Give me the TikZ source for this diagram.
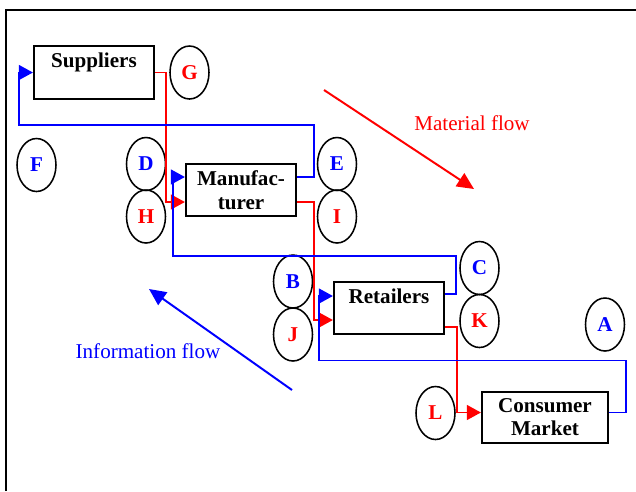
\documentclass[tikz,border=0pt]{standalone}
\usepackage{fontspec}
\setmainfont{Liberation Serif}
\usetikzlibrary{arrows.meta,shapes.geometric}
\newlength\px
\setlength\px{0.7113pt}
\definecolor{infoblue}{RGB}{0,0,255}
\definecolor{matred}{RGB}{255,0,0}
\begin{document}
\begin{tikzpicture}[x=\px,y=-\px,
  every node/.style={font=\fontsize{15}{17}\selectfont},
  box/.style={draw=black,line width=1.5pt,inner sep=0pt,align=center,font=\fontsize{15}{17}\selectfont\bfseries},
  tag/.style={draw=black,line width=1.1pt,ellipse,inner sep=0pt,minimum width=39\px,minimum height=53\px,font=\fontsize{15}{17}\selectfont\bfseries},
  bluetag/.style={tag,text=infoblue},
  redtag/.style={tag,text=matred},
  info/.style={draw=infoblue,line width=1.4pt,-{Triangle[length=10pt,width=10.5pt]}},
  mat/.style={draw=matred,line width=1.4pt,-{Triangle[length=10pt,width=10.5pt]}},
  flowarrow/.style={line width=1.4pt,-{Triangle[length=12pt,width=11pt]}}]
\useasboundingbox (0,0) rectangle (636,491);
% frame (open to the right and bottom)
\draw[line width=1.5pt] (6,491) -- (6,10) -- (636,10);

% stages of the chain
\node[box,minimum width=120\px,text height=21\px,text depth=32\px] (sup) at (94,72.5) {Suppliers};
\node[box,minimum width=110\px,minimum height=52\px] (man) at (241,190) {Manufac-\\turer};
\node[box,minimum width=110\px,text height=21\px,text depth=31\px] (ret) at (389,308) {Retailers};
\node[box,minimum width=126\px,minimum height=51\px,font=\fontsize{15}{16.4}\selectfont\bfseries] (cm) at (545,417.5) {Consumer\\Market};

% labelled points
\node[bluetag] (A) at (605,324.5) {A};
\node[bluetag] (B) at (293,281.5) {B};
\node[bluetag] (C) at (479.5,268) {C};
\node[bluetag] (D) at (146,164) {D};
\node[bluetag] (E) at (337,164) {E};
\node[bluetag] (F) at (36.5,165) {F};
\node[redtag] (G) at (189.5,72.5) {G};
\node[redtag] (H) at (146,216.5) {H};
\node[redtag] (I) at (337,216.5) {I};
\node[redtag] (J) at (293,334.5) {J};
\node[redtag] (K) at (479.5,321) {K};
\node[redtag] (L) at (435.5,413) {L};

% material flow (downstream)
\draw[mat] (sup.east) -- ++(11,0) |- ([yshift=-12\px]man.west);
\draw[mat] ([yshift=-12\px]man.east) -- ++(17,0) |- ([yshift=-12\px]ret.west);
\draw[mat] ([yshift=-19\px]ret.east) -- ++(12,0) |- ([yshift=5\px]cm.west);

% information flow (upstream)
\draw[info] ([yshift=5\px]cm.east) -- ++(17,0) -- ++(0,-52) -- ++(-307,0) |- ([yshift=12\px]ret.west);
\draw[info] ([yshift=14\px]ret.east) -- ++(11,0) -- ++(0,-38) -- ++(-283,0) |- ([yshift=13\px]man.west);
\draw[info] ([yshift=13\px]man.east) -- ++(17,0) -- ++(0,-52) -- ++(-295,0) |- (sup.west);

% direction legends
\coordinate (m1) at (324,90);
\coordinate (m2) at (474,189);
\draw[flowarrow,matred] (m1) -- (m2);
\node[text=matred] (mtxt) at (472,123) {Material flow};
\coordinate (i1) at (292,390);
\coordinate (i2) at (149,289);
\draw[flowarrow,infoblue] (i1) -- (i2);
\node[text=infoblue] (itxt) at (148,351) {Information flow};
\end{tikzpicture}
\end{document}
